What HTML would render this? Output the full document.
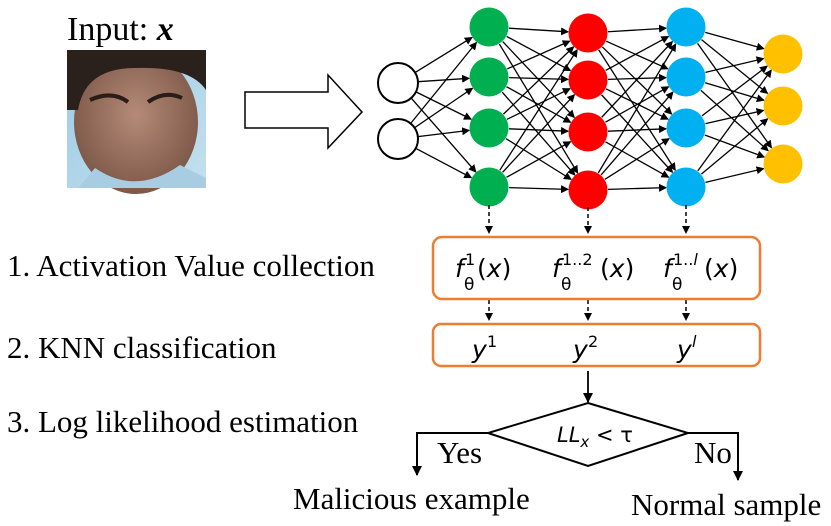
<!DOCTYPE html>
<html><head><meta charset="utf-8"><style>
html,body{margin:0;padding:0;background:#fff}
svg{display:block}
text{font-family:"Liberation Serif",serif;fill:#000}
text.m{font-family:"DejaVu Sans","Liberation Sans",sans-serif;font-style:italic}
</style></head><body>
<svg id="s" width="831" height="526" viewBox="0 0 831 526" xmlns="http://www.w3.org/2000/svg">
<defs>
<marker id="a" markerWidth="8" markerHeight="8" refX="7" refY="4" orient="auto" markerUnits="userSpaceOnUse"><path d="M0,0 L8,4 L0,8z" fill="#000"/></marker>
<marker id="b" markerWidth="10" markerHeight="10" refX="9" refY="5" orient="auto" markerUnits="userSpaceOnUse"><path d="M0,0 L10,5 L0,10z" fill="#000"/></marker>
<linearGradient id="bg" x1="0" y1="0" x2="1" y2="1"><stop offset="0" stop-color="#9ccbe4"/><stop offset="1" stop-color="#c4e0ee"/></linearGradient>
<radialGradient id="sk" cx="0.5" cy="0.45" r="0.55"><stop offset="0" stop-color="#b58a78"/><stop offset="1" stop-color="#7d5848"/></radialGradient>
</defs>
<text x="67" y="40" font-size="34">Input: <tspan font-weight="bold" font-style="italic">x</tspan></text>
<rect x="67" y="50" width="139" height="138" fill="url(#bg)"/>
<ellipse cx="136" cy="122" rx="62" ry="72" fill="url(#sk)"/>
<path d="M67,110 L67,50 L206,50 L206,90 Q190,66 135,68 Q85,68 78,110z" fill="#2a201c"/>
<path d="M90,100 Q112,90 128,102 M148,102 Q165,90 182,98" stroke="#2a1d18" stroke-width="4" fill="none"/>
<path d="M95,168 Q136,196 180,165 L206,178 L206,188 L78,188z" fill="#a8cde2"/>
<polygon points="245,92 328,92 328,75 362,112 328,148 328,128 245,128" fill="#fff" stroke="#000" stroke-width="1.5"/>
<g id="lines" stroke="#000" stroke-width="1.3"></g>
<g id="nodes"></g>
<g stroke="#000" stroke-width="1.5" stroke-dasharray="4,3">
<line x1="489" y1="205" x2="489" y2="233" marker-end="url(#a)"/>
<line x1="588" y1="207" x2="588" y2="233" marker-end="url(#a)"/>
<line x1="686" y1="205" x2="686" y2="233" marker-end="url(#a)"/>
<line x1="489" y1="300" x2="489" y2="320" marker-end="url(#a)"/>
<line x1="588" y1="300" x2="588" y2="320" marker-end="url(#a)"/>
<line x1="686" y1="300" x2="686" y2="320" marker-end="url(#a)"/>
</g>
<rect x="433" y="237" width="327" height="62" rx="9" fill="none" stroke="#ed7d31" stroke-width="2.5"/>
<rect x="433" y="324" width="327" height="42" rx="8" fill="none" stroke="#ed7d31" stroke-width="2.5"/>

<text class="m" x="455" y="277" font-size="25">f</text>
<text class="m" x="465" y="265" font-size="16" font-style="normal" style="font-style:normal">1</text>
<text class="m" x="464" y="290" font-size="17" style="font-style:normal">θ</text>
<text class="m" x="477" y="277" font-size="25"><tspan style="font-style:normal">(</tspan>x<tspan style="font-style:normal">)</tspan></text>

<text class="m" x="552" y="277" font-size="25">f</text>
<text class="m" x="562" y="265" font-size="16" style="font-style:normal">1..2</text>
<text class="m" x="561" y="290" font-size="17" style="font-style:normal">θ</text>
<text class="m" x="600" y="277" font-size="25"><tspan style="font-style:normal">(</tspan>x<tspan style="font-style:normal">)</tspan></text>

<text class="m" x="663" y="277" font-size="25">f</text>
<text class="m" x="673" y="265" font-size="16"><tspan style="font-style:normal">1..</tspan>l</text>
<text class="m" x="672" y="290" font-size="17" style="font-style:normal">θ</text>
<text class="m" x="704" y="277" font-size="25"><tspan style="font-style:normal">(</tspan>x<tspan style="font-style:normal">)</tspan></text>

<text class="m" x="472" y="358" font-size="25">y</text><text class="m" x="487" y="347" font-size="16" style="font-style:normal">1</text>
<text class="m" x="573" y="358" font-size="25">y</text><text class="m" x="588" y="347" font-size="16" style="font-style:normal">2</text>
<text class="m" x="677" y="358" font-size="25">y</text><text class="m" x="692" y="347" font-size="16">l</text>

<line x1="588" y1="371" x2="588" y2="402" stroke="#000" stroke-width="1.8" marker-end="url(#b)"/>
<polygon points="588,403 688,433 588,466 488,433" fill="#fff" stroke="#000" stroke-width="2"/>
<text class="m" x="557" y="442" font-size="21">LL<tspan font-size="15" dy="5">x</tspan><tspan dy="-5" style="font-style:normal"> &lt; τ</tspan></text>
<polyline points="488,433 417,433 417,475" fill="none" stroke="#000" stroke-width="2" marker-end="url(#b)"/>
<polyline points="688,433 738,433 738,480" fill="none" stroke="#000" stroke-width="2" marker-end="url(#b)"/>
<text x="437" y="463" font-size="31">Yes</text>
<text x="694" y="463" font-size="31">No</text>
<text x="293" y="509" font-size="31">Malicious example</text>
<text x="631" y="515" font-size="31">Normal sample</text>
<text x="7" y="276" font-size="31">1. Activation Value collection</text>
<text x="7" y="358" font-size="31">2. KNN classification</text>
<text x="7" y="432" font-size="31">3. Log likelihood estimation</text>
</svg>
<script>
var L=[[[398,83],[398,139]],[[489,27],[489,77],[489,128],[489,187]],[[588,33],[588,80],[588,132],[588,190]],[[686,27],[686,77],[686,128],[686,187]],[[783,54],[783,106],[783,164]]];
var C=[null,"#00b050","#ff0000","#00b0f0","#ffc000"];
var ns="http://www.w3.org/2000/svg",lg=document.getElementById("lines"),ng=document.getElementById("nodes");
for(var i=0;i<4;i++)for(var a of L[i])for(var b of L[i+1]){var dx=b[0]-a[0],dy=b[1]-a[1],d=Math.hypot(dx,dy);var l=document.createElementNS(ns,"line");l.setAttribute("x1",a[0]+dx/d*20);l.setAttribute("y1",a[1]+dy/d*20);l.setAttribute("x2",b[0]-dx/d*20);l.setAttribute("y2",b[1]-dy/d*20);l.setAttribute("marker-end","url(#a)");lg.appendChild(l);}
L.forEach(function(layer,i){layer.forEach(function(p){var c=document.createElementNS(ns,"circle");c.setAttribute("cx",p[0]);c.setAttribute("cy",p[1]);c.setAttribute("r",i==0?20:19.5);if(i==0){c.setAttribute("fill","#fff");c.setAttribute("stroke","#000");c.setAttribute("stroke-width","2");}else c.setAttribute("fill",C[i]);ng.appendChild(c);});});
</script>
</body></html>
